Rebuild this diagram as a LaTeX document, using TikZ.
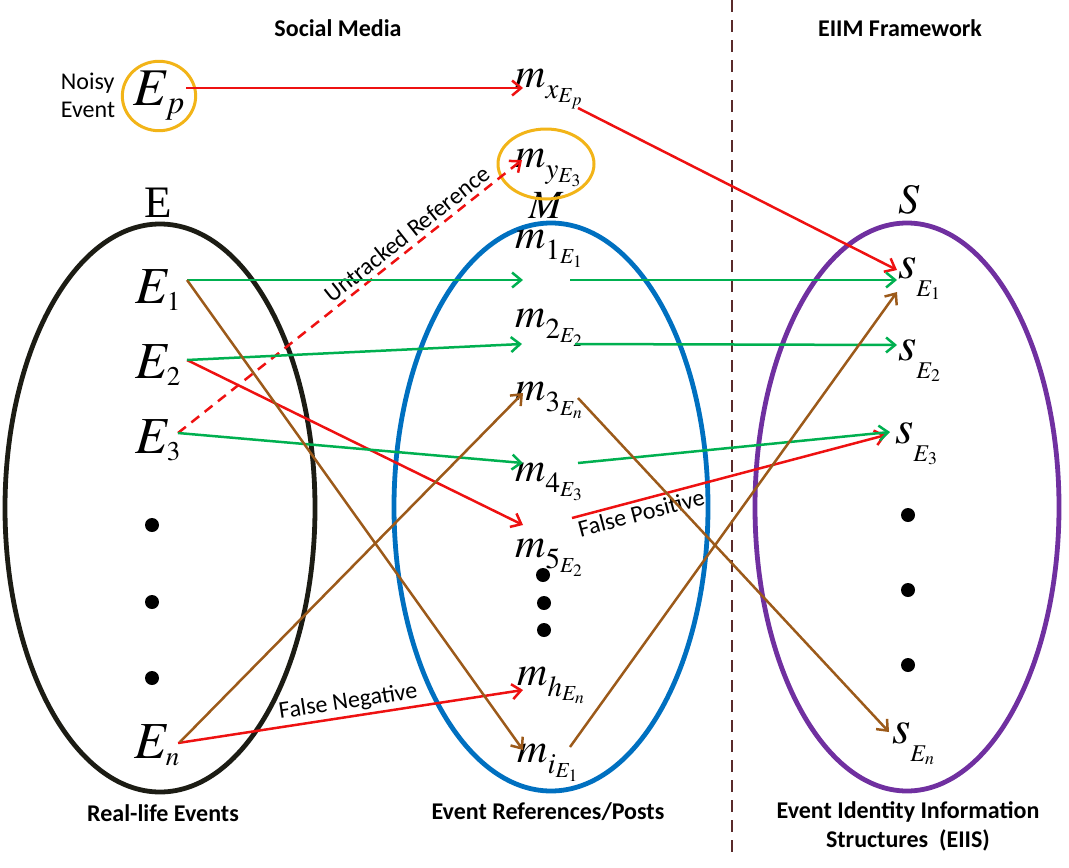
\documentclass[tikz,border=0pt]{standalone}
\usepackage{mathptmx}
\usepackage{fontspec}
\setmainfont{Liberation Serif}
\newfontfamily\calib{Carlito}
\usetikzlibrary{arrows.meta,calc,shapes.geometric}
\DeclareMathSizes{53}{53}{33}{22}
\DeclareMathSizes{52}{52}{27}{20}
\DeclareMathSizes{47}{47}{24}{17}
\DeclareMathSizes{42}{42}{30}{20}
\DeclareMathSizes{40}{40}{28}{20}
\definecolor{cgreen}{HTML}{00B050}
\definecolor{cred}{HTML}{EE1111}
\definecolor{cbrown}{HTML}{9C5A1A}
\definecolor{cblue}{HTML}{0070C0}
\definecolor{cpurple}{HTML}{7030A0}
\definecolor{cyellow}{HTML}{F2B418}
\definecolor{cblack}{HTML}{1C1C14}
\definecolor{cdash}{HTML}{5A2A2A}
\newcommand{\lowsub}[1]{\raisebox{-11pt}{\fontsize{24}{26}\selectfont$#1$}}
\newcommand{\msub}[1]{\raisebox{-5pt}{\fontsize{29}{31}\selectfont$#1$}}
\begin{document}
\begin{tikzpicture}[x=1pt,y=-1pt,
  bige/.style={anchor=base west, inner sep=0pt, font=\fontsize{52}{56}\selectfont},
  mth/.style={anchor=base west, inner sep=0pt, font=\fontsize{42}{46}\selectfont},
  sth/.style={anchor=base west, inner sep=0pt, font=\fontsize{47}{50}\selectfont},
  lbl/.style={font=\calib\fontsize{24}{28}\selectfont, inner sep=1pt},
  blbl/.style={font=\calib\bfseries\fontsize{24}{29}\selectfont, align=center, inner sep=0pt},
  conn/.style={line width=2.5pt, -{Straight Barb[length=9pt,width=15pt]}},
  dotmark/.style={circle, fill=black, inner sep=0pt, minimum size=14pt}]
\useasboundingbox (0,0) rectangle (1069,868);

% titles
\node[blbl] (tsm) at (338,28) {Social Media};
\node[blbl] (tfw) at (900,28) {EIIM Framework};
\draw[cdash, line width=2.5pt, dash pattern=on 12pt off 8pt] (732,0) -- (732,858);

% set ellipses
\draw[cblack, line width=4.8pt] (160,508) ellipse [x radius=155, y radius=284];
\draw[cblue, line width=4.8pt] (551,507) ellipse [x radius=157, y radius=284];
\draw[cpurple, line width=4.8pt] (907,507) ellipse [x radius=152, y radius=284];

% set labels
\node[font=\fontsize{45}{50}\selectfont, inner sep=0pt] (lE) at (158,203) {E};
\node[font=\fontsize{40}{44}\selectfont, inner sep=0pt] (lM) at (546,206) {$M$};
\node[font=\fontsize{42}{46}\selectfont, inner sep=0pt] (lS) at (909,200) {$S$};

% noisy event
\node[lbl, align=left] (noisy) at (88,95) {Noisy\\Event};
\node[draw=cyellow, line width=3pt, ellipse, minimum width=72pt, minimum height=66pt, inner sep=0pt,
      font=\fontsize{53}{56}\selectfont] (Ep) at (159,96) {\raisebox{3pt}{$E_p$}};

% E nodes
\node[bige] (E1) at (135,303) {$E_1$};
\node[bige] (E2) at (135,378) {$E_2$};
\node[bige] (E3) at (135,453) {$E_3$};
\node[bige] (En) at (134,758) {$E_n$};
\node[dotmark] (ed1) at (152,525) {};
\node[dotmark] (ed2) at (152,602) {};
\node[dotmark] (ed3) at (152,678) {};

% M nodes
\node[mth] (mx) at (515,87) {$m_{\msub{x_{E_p}}}$};
\node[mth] (my) at (515,167) {$m_{\msub{y_{E_3}}}$};
\draw[cyellow, line width=3pt] (546,164) ellipse [x radius=48, y radius=35];
\node[mth] (m1) at (515,248) {$m_{\msub{1_{E_1}}}$};
\node[mth] (m2) at (515,327) {$m_{\msub{2_{E_2}}}$};
\node[mth] (m3) at (515,400) {$m_{\msub{3_{E_n}}}$};
\node[mth] (m4) at (515,481) {$m_{\msub{4_{E_3}}}$};
\node[mth] (m5) at (515,557) {$m_{\msub{5_{E_2}}}$};
\node[mth] (mh) at (517,685) {$m_{\msub{h_{E_n}}}$};
\node[mth] (mi) at (517,762) {$m_{\msub{i_{E_1}}}$};
\node[dotmark] (md1) at (543,575) {};
\node[dotmark] (md2) at (544,603) {};
\node[dotmark] (md3) at (544,630) {};

% S nodes
\node[sth] (s1) at (898,278) {$s_{\lowsub{E_1}}$};
\node[sth] (s2) at (898,360) {$s_{\lowsub{E_2}}$};
\node[sth] (s3) at (895,443) {$s_{\lowsub{E_3}}$};
\node[sth] (sn) at (892,743) {$s_{\lowsub{E_n}}$};
\node[dotmark] (sd1) at (908,515) {};
\node[dotmark] (sd2) at (908,590) {};
\node[dotmark] (sd3) at (908,665) {};

% connectors: red
\draw[conn, cred] ($(Ep.center)+(27,-8)$) -- ($(mx.base west)+(8,1)$);
\draw[conn, cred] ($(mx.base west)+(63,21)$) -- ($(s1.base west)+(-1,-8)$);
\draw[conn, cred, dash pattern=on 10pt off 7pt] ($(E3.base west)+(43,-20)$) --
   node[pos=0.69, above=3pt, sloped, lbl, text=black] {Untracked Reference}
   ($(my.base west)+(7,-7)$);
\draw[conn, cred] ($(E2.base west)+(52,-18)$) -- ($(m5.base west)+(8,-32)$);
\draw[conn, cred] ($(m5.base west)+(57,-39)$) --
   node[pos=0.21, below=2pt, sloped, lbl, text=black] {False Positive}
   ($(s3.base west)+(-9,-8)$);
\draw[conn, cred] ($(En.base west)+(44,-15)$) --
   node[pos=0.5, above=2pt, sloped, lbl, text=black] {False Negative}
   ($(mh.base west)+(6,5)$);

% green
\draw[conn, cgreen] ($(E1.base west)+(52,-23)$) -- ($(m1.base west)+(8,32)$);
\draw[conn, cgreen] ($(m1.base west)+(55,32)$) -- ($(s1.base west)+(-1,2)$);
\draw[conn, cgreen] ($(E2.base west)+(52,-18)$) -- ($(m2.base west)+(7,17)$);
\draw[conn, cgreen] ($(m2.base west)+(60,17)$) -- ($(s2.base west)+(-1,-15)$);
\draw[conn, cgreen] ($(E3.base west)+(43,-20)$) -- ($(m4.base west)+(8,-18)$);
\draw[conn, cgreen] ($(m4.base west)+(63,-18)$) -- ($(s3.base west)+(-5,-11)$);

% brown
\draw[conn, cbrown] ($(E1.base west)+(52,-23)$) -- ($(mi.base west)+(6,-12)$);
\draw[conn, cbrown] ($(En.base west)+(46,-16)$) -- ($(m3.base west)+(8,-7)$);
\draw[conn, cbrown] ($(m3.base west)+(63,-2)$) -- ($(sn.base west)+(-3,-11)$);
\draw[conn, cbrown] ($(mi.base west)+(53,-15)$) -- ($(s1.base west)+(-1,14)$);

% bottom labels
\node[blbl] (bE) at (163,813) {Real-life Events};
\node[blbl] (bM) at (548,812) {Event References/Posts};
\node[blbl] (bS) at (908,826) {Event Identity Information\\Structures~~(EIIS)};
\end{tikzpicture}
\end{document}
